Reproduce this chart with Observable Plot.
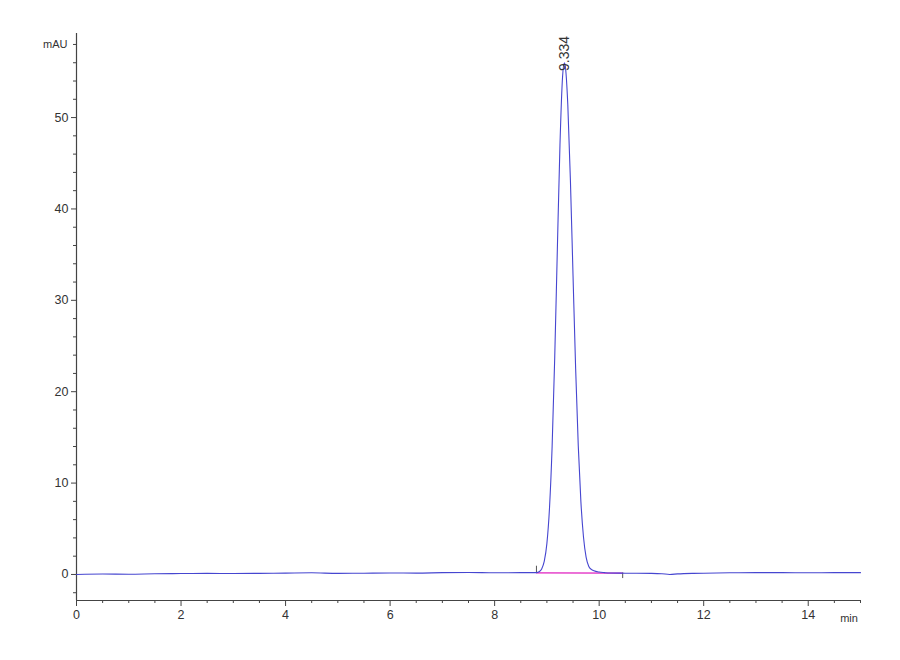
<!DOCTYPE html>
<html>
<head>
<meta charset="utf-8">
<script src="https://cdn.jsdelivr.net/npm/d3@7"></script>
<script src="https://cdn.jsdelivr.net/npm/@observablehq/plot@0.6"></script>
<style>
  html, body { margin: 0; padding: 0; background: #fff; }
  #chart { width: 900px; height: 660px; }
</style>
</head>
<body>
<div id="chart"></div>
<script>
// Chromatogram signal (time in min, absorbance in mAU)
const times = [0, 0.5, 1.0, 1.5, 2.0, 2.5, 3.0, 3.5, 4.0, 4.5, 5.0, 5.5, 6.0, 6.5, 7.0, 7.5, 8.0, 8.5, 8.8,
  8.85, 8.9, 8.95, 9.0, 9.05, 9.1, 9.15, 9.2, 9.25, 9.3, 9.334, 9.35, 9.4, 9.45, 9.5, 9.55, 9.6, 9.65, 9.7,
  9.75, 9.8, 9.85, 9.9, 10.0, 10.1, 10.2, 10.5, 11.0, 11.2, 11.35, 11.5, 11.8, 12.0, 12.5, 13.0, 13.5, 14.0, 14.5, 15.0];
const signal = [0.0, 0.05, 0.03, 0.08, 0.1, 0.12, 0.1, 0.12, 0.15, 0.18, 0.12, 0.14, 0.16, 0.15, 0.2, 0.22, 0.18, 0.2, 0.2,
  0.3, 0.6, 1.45, 3.4, 7.3, 14.0, 23.8, 35.6, 47.0, 54.5, 56.0, 55.7, 51.4, 43.1, 32.7, 22.5, 14.1, 8.0, 4.1,
  1.9, 0.9, 0.55, 0.4, 0.26, 0.2, 0.16, 0.14, 0.12, 0.08, 0.0, 0.06, 0.12, 0.14, 0.18, 0.2, 0.2, 0.18, 0.2, 0.2];

// Peak annotation
const peakTime = 9.334;
const peakLabel = "9.334";
const peakHeight = 55.1;

// Integration baseline (start, end)
const integTimes = [8.8, 10.45];
const integLevels = [0.18, 0.15];
const integMarkLow = [0.15, -0.45];
const integMarkHigh = [0.9, 0.15];

// Axis ticks
const xMajor = [0, 2, 4, 6, 8, 10, 12, 14];
const xMinor = d3.range(0, 15.01, 0.5).filter(v => v % 2 !== 0);
const yMajor = [0, 10, 20, 30, 40, 50];
const yMinor = d3.range(-2, 59, 2).filter(v => v % 10 !== 0);

const xDomain = [0, 15];
const yDomain = [-2.85, 59.2];

const series = times.map((t, i) => ({t, v: signal[i]}));
const integLine = integTimes.map((t, i) => ({t, v: integLevels[i]}));
const integMarks = integTimes.map((t, i) => ({t, lo: integMarkLow[i], hi: integMarkHigh[i]}));

const chart = Plot.plot({
  width: 900,
  height: 660,
  marginLeft: 76,
  marginRight: 40,
  marginTop: 33,
  marginBottom: 60,
  x: {domain: xDomain},
  y: {domain: yDomain},
  style: {fontFamily: "'Liberation Sans', Arial, sans-serif", fontSize: "12px", color: "#444", background: "#fff"},
  marks: [
    Plot.axisX(xMajor, {tickSize: 6, tickPadding: 4, label: null, tickFormat: d => String(d), fontSize: 12.5, fill: "#333"}),
    Plot.axisX(xMinor, {tickSize: 3, label: null, tickFormat: () => ""}),
    Plot.axisY(yMajor, {tickSize: 5, tickPadding: 3, label: null, tickFormat: d => String(d), fontSize: 12.5, fill: "#333"}),
    Plot.axisY(yMinor, {tickSize: 3, label: null, tickFormat: () => ""}),
    Plot.ruleX([xDomain[0]], {y1: yDomain[0], y2: yDomain[1], stroke: "#444", strokeWidth: 1.2}),
    Plot.ruleY([yDomain[0]], {x1: xDomain[0], x2: xDomain[1], stroke: "#444", strokeWidth: 1.2}),
    Plot.text(["mAU"], {x: xDomain[0], y: 58, text: d => d, textAnchor: "end", dx: -9, fontSize: 11, fill: "#333"}),
    Plot.text(["min"], {x: 14.78, y: yDomain[0], text: d => d, dy: 18, fontSize: 11, fill: "#333"}),
    Plot.line(integLine, {x: "t", y: "v", stroke: "#e020c0", strokeWidth: 1.3}),
    Plot.ruleX(integMarks, {x: "t", y1: "lo", y2: "hi", stroke: "#555", strokeWidth: 1}),
    Plot.line(series, {x: "t", y: "v", stroke: "#4646d0", strokeWidth: 1.1, curve: "monotone-x"}),
    Plot.text([peakLabel], {x: peakTime, y: peakHeight, text: d => d, rotate: -90, textAnchor: "start", fontSize: 14, fill: "#333"})
  ]
});
document.getElementById("chart").appendChild(chart);
</script>
</body>
</html>
